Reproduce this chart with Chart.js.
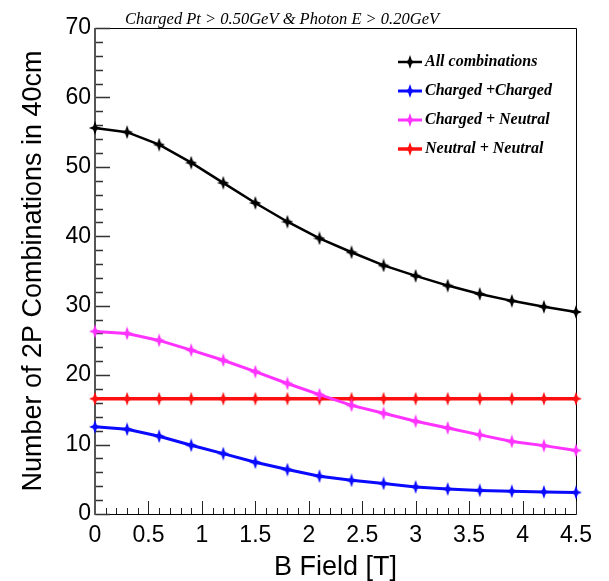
<!DOCTYPE html>
<html>
<head>
<meta charset="utf-8">
<script src="https://cdn.jsdelivr.net/npm/chart.js@4.4.1/dist/chart.umd.min.js"></script>
<style>
  html, body { margin: 0; padding: 0; background: #fff; }
  #wrap { width: 609px; height: 581px; }
</style>
</head>
<body>
<div id="wrap"><canvas id="bChart" width="609" height="581"></canvas></div>
<script>
// ---- data ----
const bField = [0, 0.3, 0.6, 0.9, 1.2, 1.5, 1.8, 2.1, 2.4, 2.7, 3.0, 3.3, 3.6, 3.9, 4.2, 4.5];

const allComb        = [55.6, 55.0, 53.2, 50.6, 47.7, 44.8, 42.1, 39.7, 37.7, 35.8, 34.3, 32.9, 31.7, 30.7, 29.85, 29.1];
const chargedCharged = [12.55, 12.2, 11.2, 9.9, 8.7, 7.45, 6.4, 5.45, 4.85, 4.4, 3.9, 3.6, 3.4, 3.27, 3.18, 3.1];
const chargedNeutral = [26.3, 26.0, 25.0, 23.6, 22.15, 20.5, 18.8, 17.2, 15.65, 14.5, 13.35, 12.4, 11.4, 10.45, 9.85, 9.15];
const neutralNeutral = [16.6, 16.6, 16.6, 16.6, 16.6, 16.6, 16.6, 16.6, 16.6, 16.6, 16.6, 16.6, 16.6, 16.6, 16.6, 16.6];

const seriesNames  = ["All combinations", "Charged +Charged", "Charged + Neutral", "Neutral + Neutral"];
const seriesColors = ["#000000", "#0a0aff", "#ff33ff", "#ff1010"];
const seriesWidths = [2.5, 3, 3, 3.5];

const plotTitle = "Charged Pt > 0.50GeV & Photon E > 0.20GeV";
const xTitle = "B Field [T]";
const yTitle = "Number of 2P Combinations in 40cm";

// ---- ROOT-like 4 point star marker ----
function starMarker(color, w, h) {
    const c = document.createElement("canvas");
    c.width = w; c.height = h;
    const g = c.getContext("2d");
    const cx = w / 2, cy = h / 2, r = 1.8;
    g.fillStyle = color;
    g.beginPath();
    g.moveTo(cx, 0);
    g.lineTo(cx + r, cy - r);
    g.lineTo(w, cy);
    g.lineTo(cx + r, cy + r);
    g.lineTo(cx, h);
    g.lineTo(cx - r, cy + r);
    g.lineTo(0, cy);
    g.lineTo(cx - r, cy - r);
    g.closePath();
    g.fill();
    return c;
}

// legend symbol = short line + marker
function legendMarker(color, lw) {
    const c = document.createElement("canvas");
    c.width = 24; c.height = 14;
    const g = c.getContext("2d");
    g.strokeStyle = color;
    g.lineWidth = lw;
    g.beginPath();
    g.moveTo(0, 7);
    g.lineTo(24, 7);
    g.stroke();
    g.drawImage(starMarker(color, 10, 14), 7, 0);
    return c;
}

const seriesValues = [allComb, chargedCharged, chargedNeutral, neutralNeutral];
const pointImgs  = seriesColors.map(c => starMarker(c, 12, 14));
const legendImgs = seriesColors.map((c, i) => legendMarker(c, seriesWidths[i]));

const datasets = seriesValues.map((vals, i) => ({
    label: seriesNames[i],
    data: bField.map((b, k) => ({ x: b, y: vals[k] })),
    borderColor: seriesColors[i],
    backgroundColor: seriesColors[i],
    borderWidth: seriesWidths[i],
    pointStyle: pointImgs[i],
    pointRadius: 6,
    tension: 0,
    clip: false
}));

// frame + inner ticks, like a ROOT canvas
const rootFrame = {
    id: "rootFrame",
    beforeDatasetsDraw(chart) {
        const { ctx, chartArea: a, scales: { x, y } } = chart;
        ctx.save();
        ctx.strokeStyle = "#000";
        ctx.lineWidth = 1;
        ctx.beginPath();
        ctx.moveTo(a.left, a.top + 0.5);
        ctx.lineTo(a.right + 0.5, a.top + 0.5);
        ctx.lineTo(a.right + 0.5, a.bottom + 0.5);
        ctx.lineTo(a.left, a.bottom + 0.5);
        ctx.stroke();

        // x ticks every 0.1, major every 0.5
        ctx.strokeStyle = "#222";
        ctx.beginPath();
        for (let i = 0; i <= 45; i++) {
            const px = Math.round(x.getPixelForValue(i / 10)) + 0.5;
            const len = i % 5 === 0 ? 13 : 6;
            ctx.moveTo(px, a.bottom);
            ctx.lineTo(px, a.bottom - len);
        }
        ctx.stroke();

        // y ticks every 2, major every 10
        ctx.lineWidth = 1.3;
        ctx.strokeStyle = "#333";
        ctx.beginPath();
        for (let v = 0; v <= 70; v += 2) {
            const py = Math.round(y.getPixelForValue(v)) + 0.5;
            const len = v % 10 === 0 ? 15 : 8;
            ctx.moveTo(a.left, py);
            ctx.lineTo(a.left + len, py);
        }
        ctx.stroke();

        // left axis line (grey, thicker)
        ctx.strokeStyle = "#555";
        ctx.lineWidth = 2;
        ctx.beginPath();
        ctx.moveTo(a.left, a.top);
        ctx.lineTo(a.left, a.bottom + 1);
        ctx.stroke();
        ctx.restore();
    },
    afterDraw(chart) {
        const ctx = chart.ctx;
        ctx.save();
        ctx.font = "italic 16.5px 'Liberation Serif'";
        ctx.fillStyle = "#000";
        ctx.textBaseline = "alphabetic";
        ctx.fillText(plotTitle, 125, 24);
        ctx.restore();
    }
};

// move the chartArea legend to the upper right corner
const placeLegend = {
    id: "placeLegend",
    afterLayout(chart) {
        if (chart.legend) {
            chart.legend.left = 390;
            chart.legend.top = 41;
        }
    }
};

const tickFont = { family: "'Liberation Sans', Arial, sans-serif", size: 23 };
const titleFont = { family: "'Liberation Sans', Arial, sans-serif", size: 27, lineHeight: 1 };

const canvas = document.getElementById("bChart");
new Chart(canvas.getContext("2d"), {
    type: "line",
    data: { datasets: datasets },
    options: {
        responsive: false,
        animation: false,
        layout: { padding: { top: 28, right: 33, left: 0, bottom: 0 } },
        plugins: {
            tooltip: { enabled: false },
            title: { display: false },
            legend: {
                position: "chartArea",
                align: "start",
                labels: {
                    usePointStyle: true,
                    pointStyleWidth: 14,
                    padding: 13,
                    color: "#000",
                    font: { family: "'Liberation Serif', 'Times New Roman', serif", size: 16, style: "italic", weight: "bold" },
                    generateLabels: (chart) => chart.data.datasets.map((ds, i) => ({
                        text: ds.label,
                        pointStyle: legendImgs[i],
                        fillStyle: ds.borderColor,
                        strokeStyle: ds.borderColor,
                        lineWidth: 0,
                        fontColor: "#000",
                        hidden: false,
                        datasetIndex: i
                    }))
                }
            }
        },
        scales: {
            x: {
                type: "linear",
                min: 0,
                max: 4.5,
                ticks: {
                    stepSize: 0.5, font: tickFont, color: "#000", padding: 8, maxRotation: 0, autoSkip: false,
                    callback: (v) => String(Number(v.toFixed(1)))   // 1 instead of 1.0
                },
                grid: { display: false, drawTicks: false },
                border: { display: false },
                title: { display: true, text: xTitle, font: titleFont, color: "#000", padding: { top: 0, bottom: 0 } },
                afterFit(s) { s.height = 67; s.paddingLeft = 0; s.paddingRight = 0; }
            },
            y: {
                min: 0,
                max: 70,
                ticks: { stepSize: 10, font: tickFont, color: "#000", padding: 4 },
                grid: { display: false, drawTicks: false },
                border: { display: false },
                title: { display: true, text: yTitle, font: titleFont, color: "#000", padding: { top: 20, bottom: 0 } },
                afterFit(s) { s.width = 95; s.paddingTop = 0; s.paddingBottom = 0; }
            }
        }
    },
    plugins: [rootFrame, placeLegend]
});
</script>
</body>
</html>
